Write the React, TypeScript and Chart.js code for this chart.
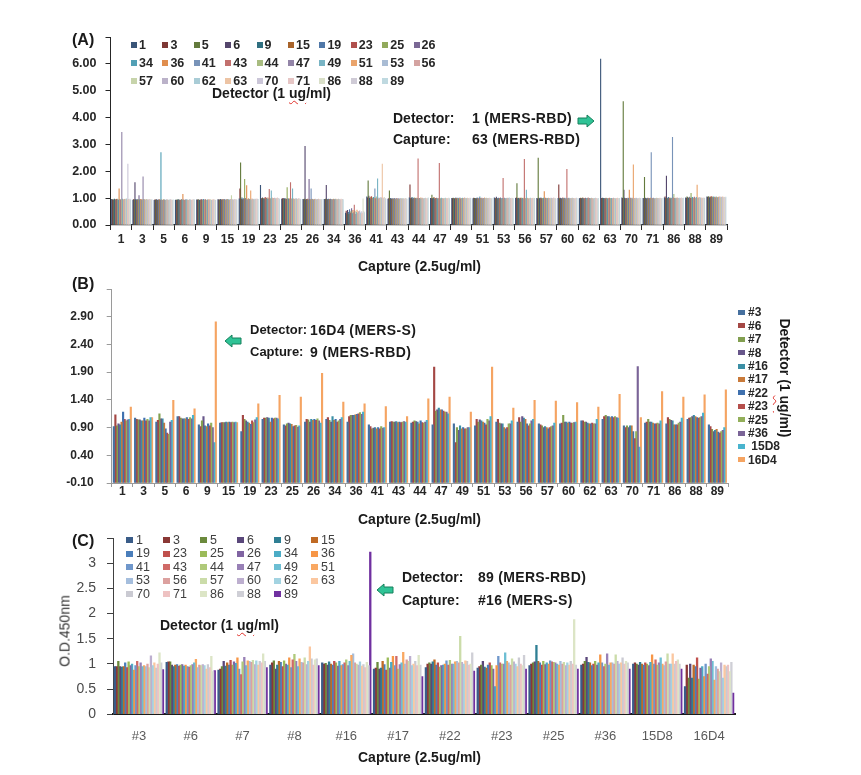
import React, { useEffect, useRef } from 'react';
import { Chart, registerables } from 'chart.js';
Chart.register(...registerables);

const FONT = '"Liberation Sans", Arial, sans-serif';

// ---------- Panel A ----------
const A_CAPTURES = ['1','3','5','6','9','15','19','23','25','26','34','36','41','43','44','47','49','51','53','56','57','60','62','63','70','71','86','88','89'];
const A_DETECTORS = ['1','3','5','6','9','15','19','23','25','26','34','36','41','43','44','47','49','51','53','56','57','60','62','63','70','71','86','88','89'];
const A_COLORS = ['#3A5578','#7E3835','#637A3C','#54466C','#2F6F80','#A8632A','#5078A8','#B0504D','#92AA5C','#7A6895','#52A0B5','#E08E4E','#7893B8','#C2706D','#A8BC80','#9385A8','#78B4C4','#EAA46C','#A9BCD4','#D4A3A1','#C7D4AB','#BBB2C9','#A9CCD6','#EDC4A4','#CBC6D8','#E6C6C5','#D9DFC8','#CFCBD6','#BFD9E0'];
const A_TICKS = [0, 1, 2, 3, 4, 5, 6, 7];

const A_CAP_1  = [0.96,0.94,0.95,0.93,0.97,0.95,0.94,0.96,0.97,0.95,0.93,1.35,0.96,0.94,0.95,3.45,0.97,0.95,0.94,0.96,0.97,0.95,0.98,0.94,2.27,0.96,0.95,0.97,0.94];
const A_CAP_3  = [0.93,0.95,0.94,1.58,0.95,0.93,0.96,0.94,0.95,1.10,0.94,0.96,0.93,0.95,0.94,1.80,0.96,0.95,0.93,0.94,0.96,0.95,0.93,0.94,0.95,0.96,0.94,0.93,0.95];
const A_CAP_5  = [0.92,0.94,0.93,0.95,0.94,0.92,0.93,0.95,0.94,0.93,2.70,0.94,0.92,0.93,0.95,0.94,0.93,0.92,0.94,0.95,0.93,0.92,0.94,0.93,0.95,0.94,0.93,0.92,0.94];
const A_CAP_6  = [0.93,0.92,0.94,0.93,0.95,0.94,0.93,0.92,0.94,0.95,0.93,1.15,0.94,0.93,0.92,0.94,0.95,0.93,0.94,0.92,0.93,0.95,0.94,0.93,0.92,0.94,0.93,0.95,0.94];
const A_CAP_9  = [0.94,0.93,0.95,0.94,0.92,0.93,0.94,0.95,0.93,0.94,0.96,0.93,0.94,0.95,0.93,0.92,0.94,0.95,0.93,0.94,0.95,0.93,0.92,0.94,0.93,0.95,0.94,0.93,0.92];
const A_CAP_15 = [0.95,0.94,0.93,0.95,0.96,0.94,0.93,0.95,0.94,0.96,0.95,0.93,0.94,0.95,0.96,0.94,0.95,0.93,0.94,0.96,1.10,0.95,0.94,0.93,0.95,0.96,0.94,0.95,0.93];
const A_CAP_19 = [0.98,1.35,2.32,0.96,1.02,0.95,0.99,0.97,1.70,1.00,0.95,1.47,0.94,0.97,0.99,0.96,0.95,1.28,0.94,0.98,0.96,0.95,0.97,0.94,0.96,0.98,0.95,0.97,0.96];
const A_CAP_23 = [1.48,0.98,1.00,1.02,0.97,1.00,0.98,1.03,0.99,1.01,0.97,1.02,0.98,1.33,1.00,0.98,1.28,1.02,0.99,1.00,0.97,1.01,0.98,1.00,0.99,1.02,0.98,1.00,0.97];
const A_CAP_25 = [0.97,0.99,0.96,1.00,0.98,0.97,0.99,0.96,1.40,0.99,0.97,0.99,0.96,1.58,0.98,0.97,1.35,0.98,0.98,0.96,0.97,0.99,0.98,0.96,0.97,0.99,0.98,0.97,0.96];
const A_CAP_26 = [0.96,0.95,0.97,2.93,0.94,0.96,0.95,0.97,0.94,1.70,0.96,0.95,1.35,0.97,0.96,0.95,0.94,0.96,0.97,0.95,0.94,0.96,0.95,0.97,0.94,0.96,0.95,0.94,0.96];
const A_CAP_34 = [0.96,0.95,0.97,1.48,0.96,0.95,0.97,0.96,0.95,0.97,0.96,0.95,0.94,0.96,0.97,0.95,0.96,0.97,0.95,0.94,0.96,0.97,0.95,0.96,0.94,0.97,0.95,0.96,0.95];
const A_CAP_36 = [0.45,0.52,0.42,0.55,0.48,0.40,0.58,0.45,0.50,0.62,0.43,0.55,0.47,0.75,0.52,0.40,0.48,0.56,0.44,0.50,0.38,0.53,0.46,0.42,0.50,0.45,0.98,0.52,0.47];
const A_CAP_41 = [1.05,1.02,1.65,1.08,1.00,1.04,0.98,1.06,1.02,1.00,1.03,1.00,1.35,0.99,1.05,1.01,1.72,0.98,1.02,1.00,0.99,1.03,1.00,2.27,0.99,1.01,1.03,1.00,0.98];
const A_CAP_43 = [0.97,0.99,1.28,0.98,1.00,0.97,0.99,0.98,0.97,1.00,0.99,0.97,0.98,1.00,0.97,0.99,0.98,0.97,1.00,0.98,0.99,0.97,1.00,0.98,0.97,0.99,1.00,0.98,0.97];
const A_CAP_44 = [1.02,1.50,0.99,1.00,1.03,0.98,1.01,0.99,1.02,1.00,0.98,1.01,1.00,2.47,0.99,1.00,0.98,1.02,0.99,1.01,1.00,0.98,1.00,0.99,1.01,0.98,1.00,0.99,1.02];
const A_CAP_47 = [1.00,0.99,1.12,0.99,1.00,1.03,0.98,1.00,0.99,1.01,0.98,1.00,0.99,2.30,1.00,0.98,1.01,0.99,1.00,0.98,1.00,0.99,1.01,1.00,0.98,0.99,1.00,1.01,0.99];
const A_CAP_49 = [1.00,0.99,1.01,1.00,0.98,1.00,1.02,0.99,1.00,1.01,0.99,1.00,1.02,0.98,1.00,0.99,1.01,1.00,0.99,1.02,1.00,0.98,1.00,1.01,0.99,1.00,0.98,1.01,1.00];
const A_CAP_51 = [0.99,1.01,1.00,0.98,1.00,0.99,1.02,1.00,0.98,1.01,1.05,1.00,0.99,1.01,0.98,1.00,0.99,1.02,1.00,0.99,1.01,1.00,0.98,1.00,1.01,0.99,1.00,0.98,1.00];
const A_CAP_53 = [1.02,1.00,0.99,1.04,1.00,0.98,1.01,1.00,0.99,1.02,1.00,0.98,1.00,1.74,0.99,1.01,1.00,0.98,1.00,1.01,0.99,1.00,1.02,0.98,1.00,0.99,1.01,1.00,0.99];
const A_CAP_56 = [1.00,1.02,1.55,0.99,1.00,1.01,0.98,1.00,1.02,0.99,1.00,1.01,0.98,2.45,1.00,0.99,1.30,1.01,1.00,0.98,1.00,0.99,1.01,1.00,0.98,1.00,1.01,0.99,1.00];
const A_CAP_57 = [1.00,0.98,2.50,1.01,0.99,1.00,1.02,0.99,1.00,0.98,1.01,1.25,0.99,1.01,1.00,0.98,1.00,1.01,0.99,1.00,0.98,1.01,1.00,0.99,1.00,1.02,0.99,1.00,0.98];
const A_CAP_60 = [1.00,1.50,0.99,1.01,1.00,0.98,1.00,1.02,0.99,1.00,1.01,0.98,1.00,2.08,0.99,1.00,1.01,0.99,1.00,0.98,1.00,1.01,0.99,1.00,0.98,1.00,0.99,1.01,1.00];
const A_CAP_62 = [0.99,1.00,1.01,0.99,1.00,1.02,0.99,1.00,0.98,1.01,1.00,0.99,1.00,1.02,0.99,1.00,0.98,1.00,1.01,0.99,1.00,0.98,1.00,0.99,1.01,1.00,0.99,0.98,1.00];
const A_CAP_63 = [6.18,1.00,0.99,1.01,1.00,0.98,1.00,0.99,1.01,1.00,0.98,1.00,0.99,1.01,1.00,0.99,1.00,0.98,1.00,1.01,0.99,1.00,0.98,1.00,0.99,1.01,1.00,0.99,1.00];
const A_CAP_70 = [1.02,1.00,4.60,1.30,1.01,0.99,1.00,1.00,0.98,1.01,1.00,1.30,1.02,1.00,0.99,1.01,0.98,2.24,0.98,1.00,0.99,1.01,1.00,0.98,1.00,0.99,1.01,1.00,0.99];
const A_CAP_71 = [1.00,0.99,1.78,1.01,1.00,0.98,1.00,1.01,0.99,1.00,0.98,1.01,2.70,1.00,0.99,1.01,1.00,0.98,1.00,0.99,1.01,1.00,0.98,1.00,0.99,1.01,1.00,0.98,1.00];
const A_CAP_86 = [1.02,1.05,1.00,1.83,1.01,0.99,1.03,1.00,1.02,0.99,1.01,1.00,3.27,1.02,1.15,1.00,0.99,1.01,1.00,1.02,0.99,1.00,1.01,0.98,1.00,1.02,0.99,1.00,1.01];
const A_CAP_88 = [1.02,1.00,1.05,1.03,1.00,1.02,1.04,1.00,1.18,1.01,1.03,1.00,1.02,1.04,1.00,1.01,1.03,1.49,1.00,1.02,1.01,1.03,1.00,1.02,0.99,1.01,1.00,1.02,1.00];
const A_CAP_89 = [1.05,1.03,1.06,1.04,1.02,1.05,1.03,1.06,1.04,1.02,1.05,1.03,1.04,1.02,1.05,1.03,1.02,1.04,1.03,1.05,1.02,1.04,1.03,1.05,1.02,1.04,1.03,1.02,1.04];
const A_ROWS = [A_CAP_1,A_CAP_3,A_CAP_5,A_CAP_6,A_CAP_9,A_CAP_15,A_CAP_19,A_CAP_23,A_CAP_25,A_CAP_26,A_CAP_34,A_CAP_36,A_CAP_41,A_CAP_43,A_CAP_44,A_CAP_47,A_CAP_49,A_CAP_51,A_CAP_53,A_CAP_56,A_CAP_57,A_CAP_60,A_CAP_62,A_CAP_63,A_CAP_70,A_CAP_71,A_CAP_86,A_CAP_88,A_CAP_89];

// ---------- Panel B ----------
const B_CAPTURES = ['1','3','5','6','9','15','19','23','25','26','34','36','41','43','44','47','49','51','53','56','57','60','62','63','70','71','86','88','89'];
const B_DETECTORS = ['#3','#6','#7','#8','#16','#17','#22','#23','#25','#36',' 15D8','16D4'];
const B_COLORS = ['#46709F','#A44744','#829F50','#67568A','#3B8FA5','#C97A3A','#3F70AE','#B54E4B','#93AF5A','#7A6497','#49B4CE','#F5A462'];
const B_TICKS = [-0.1, 0.4, 0.9, 1.4, 1.9, 2.4, 2.9, 3.4];

const B_CAP_1  = [0.92,1.13,0.93,0.97,0.95,1.00,1.18,1.05,1.02,1.04,1.05,1.27];
const B_CAP_3  = [1.07,1.05,1.04,1.04,1.02,1.02,1.07,1.02,1.05,1.02,1.08,1.08];
const B_CAP_5  = [1.00,1.03,1.15,1.06,1.06,0.98,0.88,0.80,0.78,1.00,1.03,1.39];
const B_CAP_6  = [1.10,1.10,1.07,1.06,1.06,1.06,1.08,1.05,1.08,1.06,1.12,1.24];
const B_CAP_9  = [0.95,0.92,1.02,1.10,0.93,0.92,0.97,0.93,0.98,0.90,0.63,2.81];
const B_CAP_15 = [0.98,0.99,0.99,0.99,1.00,0.99,1.00,0.99,1.00,0.99,1.00,0.99];
const B_CAP_19 = [0.83,1.12,1.05,1.02,1.00,0.98,0.96,1.02,0.99,1.04,1.08,1.33];
const B_CAP_23 = [1.05,1.07,1.07,1.08,1.07,1.00,1.07,1.06,1.07,1.07,1.06,1.48];
const B_CAP_25 = [0.95,0.93,0.97,0.98,0.97,0.96,0.92,0.93,0.94,0.91,0.93,1.45];
const B_CAP_26 = [1.00,1.05,1.04,1.00,1.05,1.03,1.05,1.03,1.06,1.02,0.98,1.88];
const B_CAP_34 = [1.05,1.08,1.03,1.00,1.10,1.03,1.05,1.00,1.02,1.05,1.08,1.36];
const B_CAP_36 = [1.00,1.10,1.12,1.12,1.12,1.13,1.14,1.15,1.17,1.14,1.18,1.33];
const B_CAP_41 = [0.95,0.92,0.88,0.89,0.90,0.88,0.90,0.88,0.92,0.89,0.90,1.28];
const B_CAP_43 = [1.00,1.01,1.00,1.00,1.01,0.99,1.00,0.99,1.00,1.01,1.00,1.10];
const B_CAP_44 = [0.98,1.00,1.02,1.01,1.00,0.97,1.02,0.99,0.98,1.00,1.03,1.42];
const B_CAP_47 = [0.95,1.99,1.20,1.22,1.25,1.22,1.22,1.20,1.18,1.18,1.15,1.45];
const B_CAP_49 = [0.97,0.63,0.90,0.85,0.93,0.88,0.90,0.88,0.88,0.90,0.90,1.18];
const B_CAP_51 = [0.93,1.05,1.00,1.04,1.02,1.00,0.98,0.95,1.05,1.02,1.10,1.99];
const B_CAP_53 = [1.00,1.05,0.98,0.97,0.97,0.90,0.88,0.90,0.97,0.97,1.02,1.25];
const B_CAP_56 = [1.00,1.08,1.00,1.10,1.07,1.05,0.97,0.93,0.97,1.02,1.05,1.39];
const B_CAP_57 = [0.97,0.95,0.93,0.90,0.92,0.90,0.88,0.90,0.92,0.93,0.98,1.38];
const B_CAP_60 = [0.97,0.98,1.12,1.00,1.00,0.98,1.00,0.98,0.98,0.99,1.00,1.35];
const B_CAP_62 = [1.02,1.02,1.00,1.00,0.98,0.97,0.97,0.98,0.97,0.97,1.05,1.27];
const B_CAP_63 = [1.05,1.10,1.12,1.10,1.10,1.08,1.10,1.08,1.10,1.08,1.07,1.50];
const B_CAP_70 = [0.93,0.90,0.93,0.90,0.93,0.93,0.83,0.70,0.83,2.00,0.55,1.08];
const B_CAP_71 = [0.98,1.00,1.05,1.00,1.00,0.98,0.97,0.97,0.98,0.97,1.02,1.55];
const B_CAP_86 = [0.97,1.08,1.05,1.03,1.02,0.95,0.95,0.95,0.98,1.00,1.07,1.45];
const B_CAP_88 = [1.05,1.07,1.08,1.10,1.12,1.10,1.08,1.07,1.08,1.10,1.16,1.49];
const B_CAP_89 = [0.95,0.92,0.87,0.83,0.85,0.87,0.82,0.80,0.83,0.85,0.90,1.58];
const B_ROWS = [B_CAP_1,B_CAP_3,B_CAP_5,B_CAP_6,B_CAP_9,B_CAP_15,B_CAP_19,B_CAP_23,B_CAP_25,B_CAP_26,B_CAP_34,B_CAP_36,B_CAP_41,B_CAP_43,B_CAP_44,B_CAP_47,B_CAP_49,B_CAP_51,B_CAP_53,B_CAP_56,B_CAP_57,B_CAP_60,B_CAP_62,B_CAP_63,B_CAP_70,B_CAP_71,B_CAP_86,B_CAP_88,B_CAP_89];

// ---------- Panel C ----------
const C_CAPTURES = ['#3','#6','#7','#8','#16','#17','#22','#23','#25','#36','15D8','16D4'];
const C_DETECTORS = ['1','3','5','6','9','15','19','23','25','26','34','36','41','43','44','47','49','51','53','56','57','60','62','63','70','71','86','88','89'];
const C_COLORS = ['#3A5C88','#8A3735','#6B8A3C','#5A477A','#2F7F94','#C06A24','#4A7EBB','#C0504D','#9BBB59','#8064A2','#4BACC6','#F79646','#6F97CB','#D06A67','#AFC97A','#9880B6','#6CBED3','#F9A862','#A5BEDD','#DCA19F','#CBDCA9','#BDAFCF','#A3D3E1','#FBC7A0','#CACAD2','#EEC2C2','#DCE5C6','#CFCFD6','#7030A0'];
const C_TICKS = [0, 0.5, 1, 1.5, 2, 2.5, 3, 3.5];

const C_CAP_3    = [0.95,0.95,1.05,0.95,0.94,0.95,1.02,0.93,1.04,0.97,1.00,0.88,0.97,1.05,0.95,1.02,0.95,0.97,0.95,1.00,0.93,1.16,0.97,1.02,0.92,1.00,1.22,1.02,0.89];
const C_CAP_6    = [1.03,1.04,1.04,0.98,0.95,0.98,0.99,0.96,0.98,0.99,0.96,0.98,0.95,0.94,0.97,0.99,1.02,1.09,0.93,0.98,0.97,0.99,0.97,0.90,0.99,0.93,1.15,0.85,0.87];
const C_CAP_7    = [0.88,0.90,0.95,1.05,0.96,1.02,0.98,1.07,0.98,1.04,1.01,1.12,0.90,0.79,1.04,1.13,0.97,1.06,1.05,1.03,1.07,0.99,1.06,0.98,1.05,1.02,1.20,1.05,0.93];
const C_CAP_8    = [0.98,1.02,1.06,0.90,0.98,1.05,1.03,0.95,1.06,1.00,0.98,1.12,0.93,1.08,1.19,1.05,0.95,1.10,1.03,1.02,1.12,0.99,1.05,1.34,1.10,0.98,1.08,1.10,0.97];
const C_CAP_16   = [1.02,1.00,1.01,0.98,1.04,1.00,0.98,1.05,1.02,0.96,1.05,0.97,0.99,1.02,1.08,0.97,1.05,1.17,1.20,1.02,1.00,0.98,1.04,0.96,0.99,0.93,1.03,0.97,3.22];
const C_CAP_17   = [0.90,0.92,1.03,0.90,0.92,1.05,0.99,0.88,1.12,0.92,1.03,1.15,0.97,1.15,0.90,0.99,1.02,1.23,1.00,1.08,1.05,1.15,0.97,1.00,1.05,0.97,1.17,0.98,0.75];
const C_CAP_22   = [0.93,1.00,1.02,1.00,1.04,1.08,0.98,1.02,0.94,0.97,0.98,1.00,1.06,0.98,1.07,1.00,1.00,1.04,1.05,1.02,1.55,1.03,1.00,1.06,1.05,0.98,1.00,1.22,0.86];
const C_CAP_23   = [0.92,0.95,0.98,1.05,0.94,0.92,0.98,1.02,0.97,0.90,0.55,0.97,1.15,1.02,1.00,1.00,1.22,1.05,1.02,0.98,1.10,1.04,1.00,0.95,1.12,1.00,0.97,1.17,0.90];
const C_CAP_25   = [0.97,1.00,1.02,1.04,1.37,1.05,1.02,0.98,1.05,0.99,1.02,1.00,1.06,1.04,1.03,1.02,1.00,0.98,1.05,1.00,1.03,0.97,1.02,0.98,1.05,1.00,1.88,0.98,0.90];
const C_CAP_36   = [0.98,1.00,1.05,1.13,1.03,1.02,0.97,1.00,1.05,0.98,1.02,1.18,1.02,0.95,1.00,1.20,0.98,1.02,1.02,1.00,1.18,1.05,1.00,1.02,1.12,1.00,1.05,1.02,0.90];
const C_CAP_15D8 = [1.00,1.02,1.00,0.98,1.03,1.00,0.98,1.02,1.00,0.97,1.03,1.18,1.00,1.08,0.98,1.02,1.12,1.00,0.97,1.04,1.20,1.00,1.00,1.20,1.00,1.05,1.08,1.00,0.90];
const C_CAP_16D4 = [0.55,0.98,0.72,1.00,0.72,0.98,0.95,1.12,0.70,0.92,0.95,0.75,1.00,0.80,0.95,1.10,1.05,0.68,0.95,0.90,0.85,1.02,0.72,0.98,0.95,0.98,0.85,1.03,0.42];
const C_ROWS = [C_CAP_3,C_CAP_6,C_CAP_7,C_CAP_8,C_CAP_16,C_CAP_17,C_CAP_22,C_CAP_23,C_CAP_25,C_CAP_36,C_CAP_15D8,C_CAP_16D4];

type PanelCfg = {
  captures: string[]; detectors: string[]; colors: string[]; rows: number[][];
  ticks: number[]; fmt: (v: number) => string; base: number; catPct: number; inflate: number;
  w: number; h: number; top: number; left: number; right: number; bottom: number;
  yFont: any; yColor: string; yPad: number; yTick: number; yAxisColor: string; yTickColor: string;
  xFont: any; xColor: string; xPad: number; xTick: number; xAxisColor: string; xAxisWidth: number; xTickColor: string;
};

function buildChart(canvas: HTMLCanvasElement, c: PanelCfg) {
  const datasets = c.detectors.map((d, j) => ({
    label: d,
    data: c.rows.map((r) => r[j]),
    backgroundColor: c.colors[j],
    borderWidth: 0,
    categoryPercentage: c.catPct,
    barPercentage: 1,
    inflateAmount: c.inflate,
    base: c.base,
  }));
  const min = c.ticks[0];
  const max = c.ticks[c.ticks.length - 1];
  return new Chart(canvas, {
    type: 'bar',
    data: { labels: c.captures, datasets },
    options: {
      animation: false,
      responsive: false,
      maintainAspectRatio: false,
      events: [],
      layout: { padding: { top: c.top, right: c.w - c.right, bottom: 0, left: 0 } },
      plugins: { legend: { display: false }, tooltip: { enabled: false }, title: { display: false } },
      scales: {
        x: {
          type: 'category',
          offset: true,
          afterFit: (s: any) => { s.height = c.h - c.bottom; },
          ticks: { autoSkip: false, maxRotation: 0, minRotation: 0, font: c.xFont, color: c.xColor, padding: c.xPad },
          grid: { offset: true, drawOnChartArea: false, drawTicks: c.xTick > 0, tickLength: c.xTick, tickColor: c.xTickColor, tickWidth: 1 },
          border: { display: true, color: c.xAxisColor, width: c.xAxisWidth },
        },
        y: {
          type: 'linear',
          min, max,
          afterFit: (s: any) => { s.width = c.left; },
          afterBuildTicks: (s: any) => { s.ticks = c.ticks.map((v) => ({ value: v })); },
          ticks: {
            font: c.yFont, color: c.yColor, padding: c.yPad,
            callback: (v: any, i: number, arr: any[]) => (i === arr.length - 1 ? '' : c.fmt(Number(v))),
          },
          grid: { drawOnChartArea: false, drawTicks: true, tickLength: c.yTick, tickColor: c.yTickColor, tickWidth: 1 },
          border: { display: true, color: c.yAxisColor, width: 1 },
        },
      },
    },
  } as any);
}

const W = 861;

const CFG_A: PanelCfg = {
  captures: A_CAPTURES, detectors: A_DETECTORS, colors: A_COLORS, rows: A_ROWS,
  ticks: A_TICKS, fmt: (v) => v.toFixed(2), base: 0, catPct: 0.92, inflate: 0.22,
  w: W, h: 262, top: 37, left: 110.5, right: 727, bottom: 225,
  yFont: { family: FONT, size: 12.5, weight: 'bold', lineHeight: 1 }, yColor: '#262626', yPad: 9, yTick: 5, yAxisColor: '#262626', yTickColor: '#262626',
  xFont: { family: FONT, size: 12, weight: 'bold', lineHeight: 1 }, xColor: '#262626', xPad: 4, xTick: 5, xAxisColor: '#262626', xAxisWidth: 1.2, xTickColor: '#262626',
};

const CFG_B: PanelCfg = {
  captures: B_CAPTURES, detectors: B_DETECTORS, colors: B_COLORS, rows: B_ROWS,
  ticks: B_TICKS, fmt: (v) => v.toFixed(2), base: -0.1, catPct: 0.87, inflate: 0.3,
  w: W, h: 232, top: 10.3, left: 111.7, right: 728, bottom: 213.3,
  yFont: { family: FONT, size: 12, weight: 'bold', lineHeight: 1 }, yColor: '#262626', yPad: 13, yTick: 5, yAxisColor: '#9a9a9a', yTickColor: '#9a9a9a',
  xFont: { family: FONT, size: 12, weight: 'bold', lineHeight: 1 }, xColor: '#262626', xPad: -1, xTick: 4, xAxisColor: '#9a9a9a', xAxisWidth: 1, xTickColor: '#9a9a9a',
};

const CFG_C: PanelCfg = {
  captures: C_CAPTURES, detectors: C_DETECTORS, colors: C_COLORS, rows: C_ROWS,
  ticks: C_TICKS, fmt: (v) => String(v), base: 0, catPct: 0.96, inflate: 0.3,
  w: W, h: 255, top: 13.4, left: 113, right: 735, bottom: 194.3,
  yFont: { family: FONT, size: 14, weight: 'normal', lineHeight: 1 }, yColor: '#4a4a4a', yPad: 11, yTick: 6, yAxisColor: '#404040', yTickColor: '#404040',
  xFont: { family: FONT, size: 13, weight: 'normal', lineHeight: 1 }, xColor: '#5a5a5a', xPad: 16, xTick: 0, xAxisColor: '#1a1a1a', xAxisWidth: 2, xTickColor: '#1a1a1a',
};

function Panel({ cfg, top }: { cfg: PanelCfg; top: number }) {
  const ref = useRef<HTMLCanvasElement>(null);
  useEffect(() => {
    if (!ref.current) return;
    const ch = buildChart(ref.current, cfg);
    return () => ch.destroy();
  }, []);
  return (
    <canvas
      ref={ref}
      width={cfg.w}
      height={cfg.h}
      style={{ position: 'absolute', left: 0, top, width: cfg.w, height: cfg.h }}
    />
  );
}

function Txt({ x, y, size, bold = true, color = '#1a1a1a', spacing = 0, children }: any) {
  return (
    <div style={{
      position: 'absolute', left: x, top: y - size * 0.6, fontFamily: FONT, fontSize: size,
      fontWeight: bold ? 'bold' : 'normal', color, lineHeight: `${size * 1.2}px`, whiteSpace: 'pre',
      letterSpacing: spacing,
    }}>{children}</div>
  );
}

const squiggle: React.CSSProperties = {
  textDecorationLine: 'underline', textDecorationStyle: 'wavy', textDecorationColor: '#e0302a',
  textDecorationThickness: '1px', textUnderlineOffset: '2px',
};

function DetectorTitle() {
  return <>Detector (1 <span style={squiggle}>ug</span>/ml)</>;
}

function Arrow({ x, y, dir }: { x: number; y: number; dir: 'left' | 'right' }) {
  const pts = dir === 'right'
    ? '1,4 10,4 10,1 17,7 10,13 10,10 1,10'
    : '17,4 8,4 8,1 1,7 8,13 8,10 17,10';
  return (
    <svg width={18} height={14} style={{ position: 'absolute', left: x, top: y - 7 }}>
      <polygon points={pts} fill="#2fc396" stroke="#16805c" strokeWidth={1} />
    </svg>
  );
}

function GridLegend({ labels, colors, x0, y0, dx, dy, cols, size, bold, color, mw, mh, gap }: any) {
  return (
    <>
      {labels.map((l: string, i: number) => {
        const c = i % cols;
        const r = Math.floor(i / cols);
        const x = x0 + c * dx;
        const y = y0 + r * dy;
        return (
          <React.Fragment key={i}>
            <div style={{ position: 'absolute', left: x, top: y - mh / 2, width: mw, height: mh, background: colors[i] }} />
            <Txt x={x + mw + gap} y={y} size={size} bold={bold} color={color}>{l}</Txt>
          </React.Fragment>
        );
      })}
    </>
  );
}

export default function App() {
  return (
    <div style={{ position: 'absolute', left: 0, top: 0, width: 861, height: 775, background: '#fff', overflow: 'hidden' }}>
      <Panel cfg={CFG_A} top={0} />
      <Panel cfg={CFG_B} top={270} />
      <Panel cfg={CFG_C} top={520} />

      {/* Panel A overlays */}
      <Txt x={72} y={40} size={16}>(A)</Txt>
      <GridLegend labels={A_DETECTORS} colors={A_COLORS} x0={131} y0={45} dx={31.4} dy={18} cols={10}
        size={12.5} bold color="#262626" mw={6} mh={6} gap={2} />
      <Txt x={212} y={93} size={14}><DetectorTitle /></Txt>
      <Txt x={393} y={118} size={14}>Detector:</Txt>
      <Txt x={472} y={118} size={14} spacing={0.3}>1 (MERS-RBD)</Txt>
      <Txt x={393} y={139} size={14}>Capture:</Txt>
      <Txt x={472} y={139} size={14} spacing={0.3}>63 (MERS-RBD)</Txt>
      <Arrow x={577} y={121} dir="right" />
      <Txt x={358} y={266} size={14}>Capture (2.5ug/ml)</Txt>

      {/* Panel B overlays */}
      <Txt x={72} y={284} size={16}>(B)</Txt>
      <Txt x={250} y={330} size={13}>Detector:</Txt>
      <Txt x={310} y={330} size={14} spacing={0.4}>16D4 (MERS-S)</Txt>
      <Txt x={250} y={352} size={13}>Capture:</Txt>
      <Txt x={310} y={352} size={14} spacing={0.4}>9 (MERS-RBD)</Txt>
      <Arrow x={224} y={341} dir="left" />
      <GridLegend labels={B_DETECTORS} colors={B_COLORS} x0={738} y0={312.5} dx={0} dy={13.4} cols={1}
        size={12} bold color="#262626" mw={7} mh={5} gap={3} />
      <div style={{
        position: 'absolute', left: 784, top: 378, transform: 'translate(-50%, -50%) rotate(90deg)',
        fontFamily: FONT, fontSize: 14, fontWeight: 'bold', color: '#1a1a1a', whiteSpace: 'pre', lineHeight: '17px',
      }}><DetectorTitle /></div>
      <Txt x={358} y={519} size={14}>Capture (2.5ug/ml)</Txt>

      {/* Panel C overlays */}
      <Txt x={72} y={541} size={16}>(C)</Txt>
      <GridLegend labels={C_DETECTORS} colors={C_COLORS} x0={126} y0={540} dx={37} dy={13.5} cols={6}
        size={12.5} bold={false} color="#404040" mw={7} mh={6} gap={3} />
      <Txt x={160} y={625} size={14}><DetectorTitle /></Txt>
      <div style={{
        position: 'absolute', left: 65, top: 631, transform: 'translate(-50%, -50%) rotate(-90deg)',
        fontFamily: FONT, fontSize: 14, color: '#333', whiteSpace: 'pre', lineHeight: '17px',
      }}>O.D.450nm</div>
      <Txt x={402} y={577} size={14}>Detector:</Txt>
      <Txt x={478} y={577} size={14} spacing={0.3}>89 (MERS-RBD)</Txt>
      <Txt x={402} y={600} size={14}>Capture:</Txt>
      <Txt x={478} y={600} size={14} spacing={0.3}>#16 (MERS-S)</Txt>
      <Arrow x={376} y={590} dir="left" />
      <Txt x={358} y={757} size={14}>Capture (2.5ug/ml)</Txt>
    </div>
  );
}
